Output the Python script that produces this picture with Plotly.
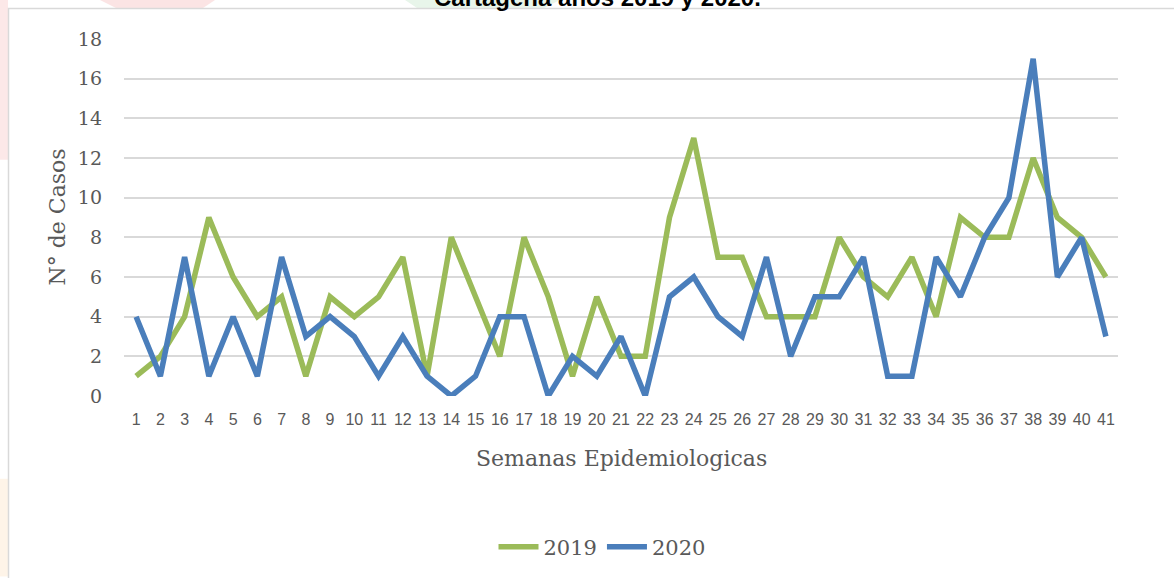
import plotly.graph_objects as go

weeks = list(range(1, 42))
cases_2019 = [1, 2, 4, 9, 6, 4, 5, 1, 5, 4, 5, 7, 1, 8, 5, 2, 8, 5, 1, 5, 2, 2, 9, 13, 7, 7,
              4, 4, 4, 8, 6, 5, 7, 4, 9, 8, 8, 12, 9, 8, 6]
cases_2020 = [4, 1, 7, 1, 4, 1, 7, 3, 4, 3, 1, 3, 1, 0, 1, 4, 4, 0, 2, 1, 3, 0, 5, 6, 4, 3,
              7, 2, 5, 5, 7, 1, 1, 7, 5, 8, 10, 17, 6, 8, 3]
y_ticks = [0, 2, 4, 6, 8, 10, 12, 14, 16, 18]

W, H = 1174, 578
L, R, T, B = 124, 1118, 39, 397


def px(x):
    return (x - L) / (R - L)


def py(y):
    return (B - y) / (B - T)


SERIF = "DejaVu Serif"
GREY = "#595959"

fig = go.Figure()
fig.add_trace(go.Scatter(x=weeks, y=cases_2019, mode="lines", name="2019",
                         line=dict(color="#9BBB59", width=5.5)))
fig.add_trace(go.Scatter(x=weeks, y=cases_2020, mode="lines", name="2020",
                         line=dict(color="#4A7EBB", width=5.5)))

shapes = [
    # faint watermark pieces outside the chart frame
    dict(type="path", xref="paper", yref="paper",
         path=f"M {px(100)} {py(0)} L {px(215)} {py(0)} L {px(200)} {py(10)} L {px(120)} {py(10)} Z",
         fillcolor="#FBE4E4", line=dict(width=0), layer="below"),
    dict(type="path", xref="paper", yref="paper",
         path=f"M {px(405)} {py(0)} L {px(560)} {py(0)} L {px(540)} {py(10)} L {px(420)} {py(10)} Z",
         fillcolor="#E8F5EA", line=dict(width=0), layer="below"),
    dict(type="rect", xref="paper", yref="paper",
         x0=px(0), x1=px(8), y0=py(0), y1=py(160),
         fillcolor="#FCE8E8", line=dict(width=0), layer="below"),
    dict(type="rect", xref="paper", yref="paper",
         x0=px(0), x1=px(8), y0=py(480), y1=py(578),
         fillcolor="#FEF4E8", line=dict(width=0), layer="below"),
    # chart frame
    dict(type="rect", xref="paper", yref="paper",
         x0=px(8.5), x1=px(1190), y0=py(8.5), y1=py(600),
         fillcolor="white", line=dict(color="#D9D9D9", width=1.5), layer="below"),
]

annotations = [
    dict(text="<b>Cartagena años 2019 y 2020.</b>", xref="paper", yref="paper",
         x=px(597), y=py(-3), xanchor="center", yanchor="middle", showarrow=False,
         font=dict(family="Liberation Sans", size=24, color="#000000")),
    dict(text="N° de Casos", xref="paper", yref="paper", x=px(57), y=py(218),
         xanchor="center", yanchor="middle", textangle=-90, showarrow=False,
         font=dict(family=SERIF, size=22, color=GREY)),
    dict(text="Semanas Epidemiologicas", xref="paper", yref="paper", x=px(621), y=py(460),
         xanchor="center", yanchor="middle", showarrow=False,
         font=dict(family=SERIF, size=22, color=GREY)),
]

fig.update_layout(
    width=W, height=H,
    margin=dict(l=L, r=W - R, t=T, b=H - B, pad=0),
    paper_bgcolor="white", plot_bgcolor="rgba(0,0,0,0)",
    shapes=shapes, annotations=annotations,
    showlegend=True,
    legend=dict(orientation="h", x=px(602), y=py(547), xanchor="center", yanchor="middle",
                font=dict(family=SERIF, size=21, color=GREY), bgcolor="rgba(0,0,0,0)",
                itemwidth=40, tracegroupgap=0),
    xaxis=dict(range=[0.5, 41.5], tickmode="array", tickvals=weeks,
               ticktext=[str(w) for w in weeks], showgrid=False, zeroline=False,
               showline=False, ticks="", ticklabelstandoff=12,
               tickfont=dict(family="Liberation Sans", size=16, color=GREY)),
    yaxis=dict(range=[0, 18], tickmode="array", tickvals=y_ticks,
               showgrid=True, gridcolor="#D9D9D9", gridwidth=1.5, zeroline=False,
               showline=False, ticks="", ticklabelstandoff=21,
               tickfont=dict(family=SERIF, size=19, color=GREY)),
)

fig.write_html("out.html", config={"displayModeBar": False},
               post_script="document.body.style.margin='0';document.body.style.overflow='hidden';")
